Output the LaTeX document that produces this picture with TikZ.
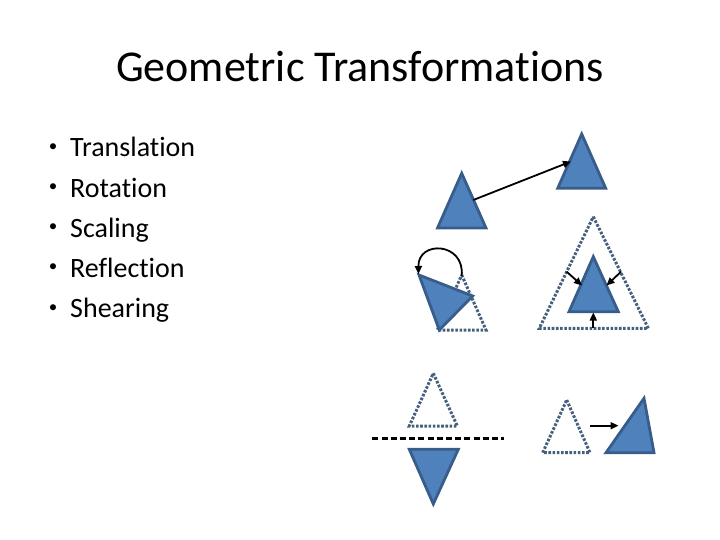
\documentclass[tikz,border=0pt]{standalone}
\usepackage{fontspec}
\setmainfont[Ligatures=NoCommon]{Carlito}
\usetikzlibrary{arrows.meta}

\definecolor{shapefill}{RGB}{79,129,189}
\definecolor{shapeline}{RGB}{56,93,138}
\definecolor{ghostline}{RGB}{70,95,125}

\begin{document}
\begin{tikzpicture}[
  x=1pt,y=-1pt,
  solidtri/.style={fill=shapefill, draw=shapeline, line width=2.8pt, line join=miter},
  ghosttri/.style={draw=ghostline, line width=3pt, dash pattern=on 2.6pt off 1.6pt},
  move/.style={-{Triangle[length=8pt,width=7pt]}, draw=black, line width=1.8pt},
  mirror/.style={draw=black, line width=2.6pt, dash pattern=on 6pt off 3.2pt},
  title/.style={font=\fontsize{44}{50}\selectfont, anchor=base},
  item/.style={font=\fontsize{28}{32}\selectfont, anchor=base west, inner sep=0pt},
  dot/.style={font=\fontsize{17}{20}\selectfont, anchor=center, inner sep=0pt}
]
  \useasboundingbox (0,0) rectangle (720,540);

  \node[title] (head) at (360,82) {Geometric Transformations};

  % bullet list
  \foreach \lbl [count=\i] in {Translation,Rotation,Scaling,Reflection,Shearing}{
    \node[dot] (b\i) at (53,147.5+40.2*\i-40.2) {•};
    \node[item] (t\i) at (70,157+40.2*\i-40.2) {\lbl};
  }

  % translation
  \draw[solidtri] (461.7,173.3) -- (486,228) -- (437.5,228) -- cycle;
  \draw[solidtri] (581.7,134) -- (605.7,188.3) -- (557.7,188.3) -- cycle;
  \coordinate (trA) at (473.3,200);
  \coordinate (trB) at (571,161.5);
  \draw[move] (trA) -- (trB);

  % rotation
  \draw[ghosttri] (461.7,275) -- (486,330) -- (437.3,330) -- cycle;
  \draw[solidtri] (419,275) -- (472.7,296) -- (439.3,330) -- cycle;
  \coordinate (rotA) at (461.7,276);
  \coordinate (rotB) at (418.5,274);
  \draw[move] (rotA) .. controls (465,242) and (418,240) .. (rotB);

  % scaling
  \draw[ghosttri] (593.3,216.7) -- (648.3,328.3) -- (539.3,328.3) -- cycle;
  \draw[solidtri] (593.3,256.7) -- (618.3,311.7) -- (569,311.7) -- cycle;
  \coordinate (scL) at (566.7,271.7);
  \coordinate (scLe) at (582,285.5);
  \coordinate (scR) at (621,271.7);
  \coordinate (scRe) at (606.5,285.5);
  \coordinate (scB) at (593.3,328.3);
  \coordinate (scBe) at (593.3,312.5);
  \draw[move] (scL) -- (scLe);
  \draw[move] (scR) -- (scRe);
  \draw[move] (scB) -- (scBe);

  % reflection
  \draw[ghosttri] (433.3,373.3) -- (457.3,426) -- (409.3,426) -- cycle;
  \coordinate (axL) at (372.3,438.3);
  \coordinate (axR) at (504,438.3);
  \draw[mirror] (axL) -- (axR);
  \draw[solidtri] (409.3,449.3) -- (458.3,449.3) -- (433.3,504) -- cycle;

  % shearing
  \draw[ghosttri] (566.7,400) -- (590,452.7) -- (542.7,452.7) -- cycle;
  \coordinate (shA) at (590,425.7);
  \coordinate (shB) at (618.5,425.7);
  \draw[move] (shA) -- (shB);
  \draw[solidtri] (606,452.7) -- (644,398.3) -- (654,452.7) -- cycle;
\end{tikzpicture}
\end{document}
